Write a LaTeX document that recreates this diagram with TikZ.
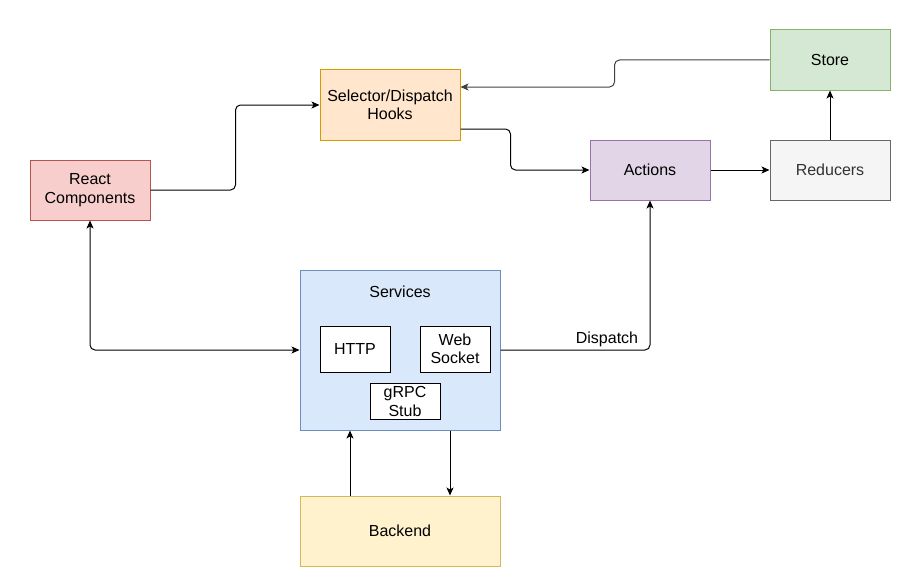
\documentclass[tikz,border=0pt]{standalone}
\usepackage{fontspec}
\setmainfont{Liberation Sans}
\usetikzlibrary{arrows.meta,calc}
\definecolor{redF}{HTML}{F8CECC}\definecolor{redS}{HTML}{B85450}
\definecolor{orF}{HTML}{FFE6CC}\definecolor{orS}{HTML}{D79B00}
\definecolor{grF}{HTML}{D5E8D4}\definecolor{grS}{HTML}{82B366}
\definecolor{puF}{HTML}{E1D5E7}\definecolor{puS}{HTML}{9673A6}
\definecolor{gyF}{HTML}{F5F5F5}\definecolor{gyS}{HTML}{666666}\definecolor{gyT}{HTML}{333333}
\definecolor{blF}{HTML}{DAE8FC}\definecolor{blS}{HTML}{6C8EBF}
\definecolor{yeF}{HTML}{FFF2CC}\definecolor{yeS}{HTML}{D6B656}
\begin{document}
\begin{tikzpicture}[x=1pt,y=-1pt,
  font=\fontsize{16}{18.5}\selectfont,
  box/.style={draw,rectangle,inner sep=0pt,line width=1pt,align=center},
  conn/.style={line width=1pt,rounded corners=5pt,-{Stealth[length=8pt,width=7pt,inset=2pt]}},
  >={Stealth[length=8pt,width=7pt,inset=2pt]}]
\useasboundingbox (0,0) rectangle (902,578);
\node[box,fill=redF,draw=redS,minimum width=120pt,minimum height=60pt] (react) at (90,190) {React\\Components};
\node[box,fill=orF,draw=orS,minimum width=140pt,minimum height=70pt] (sel) at (390,105) {Selector/Dispatch\\Hooks};
\node[box,fill=grF,draw=grS,minimum width=120pt,minimum height=60pt] (store) at (830,60) {Store};
\node[box,fill=puF,draw=puS,minimum width=120pt,minimum height=60pt] (act) at (650,170) {Actions};
\node[box,fill=gyF,draw=gyS,text=gyT,minimum width=120pt,minimum height=60pt] (red) at (830,170) {Reducers};
\node[box,fill=blF,draw=blS,minimum width=200pt,minimum height=160pt] (serv) at (400,350) {};
\node (servlbl) at (400,292) {Services};
\node[box,fill=white,draw=black,minimum width=70pt,minimum height=46pt] (http) at (355,349) {HTTP};
\node[box,fill=white,draw=black,minimum width=70pt,minimum height=46pt] (ws) at (455,349) {Web\\Socket};
\node[box,fill=white,draw=black,minimum width=70pt,minimum height=36pt] (grpc) at (405,401.5) {gRPC\\Stub};
\node[box,fill=yeF,draw=yeS,minimum width=200pt,minimum height=70pt] (back) at (400,531) {Backend};

\draw[conn] (react.east) -- ++(85,0) |- (sel.west);
\draw[conn] ($(sel.east)+(0,24)$) -- ++(50,0) |- (act.west);
\draw[conn,draw=black!75] (store.west) -- ++(-155,0) |- ($(sel.east)+(0,-18)$);
\draw[conn] (act.east) -- (red.west);
\draw[conn] (red.north) -- (store.south);
\draw[conn,{Stealth[length=8pt,width=7pt,inset=2pt]}-{Stealth[length=8pt,width=7pt,inset=2pt]}] (react.south) |- (serv.west);
\draw[conn] (serv.east) -| (act.south);
\node (disp) at (607,339) {Dispatch};
\draw[conn] ($(back.north)+(-50,0)$) -- ($(serv.south)+(-50,0)$);
\draw[conn] ($(serv.south)+(50,0)$) -- ($(back.north)+(50,0)$);
\end{tikzpicture}
\end{document}
